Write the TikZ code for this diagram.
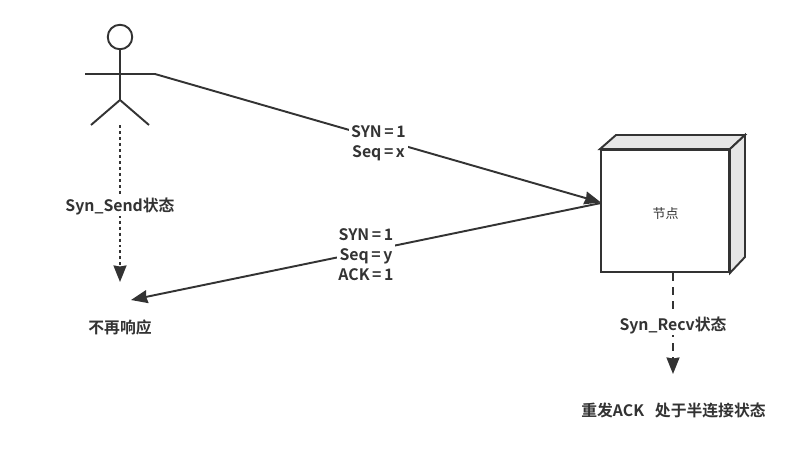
\documentclass[tikz,border=0pt]{standalone}
\usepackage{fontspec}
\setmainfont{Noto Sans CJK SC}[BoldFont={Noto Sans CJK SC Bold}]
\usetikzlibrary{arrows.meta}
\definecolor{ink}{HTML}{333333}
\definecolor{side}{HTML}{E6E6E6}
\tikzset{
    line/.style={draw=ink, line width=1.1pt},
    flow/.style={line, -{Stealth[length=3.3mm, width=2.6mm, inset=0.2mm]}},
    label/.style={fill=white, inner sep=1pt, text=ink, font=\fontsize{9}{11.3}\selectfont\bfseries, align=center}
}
\begin{document}
\begin{tikzpicture}[x=0.2mm, y=-0.2mm]
        \useasboundingbox (0,0) rectangle (793,465);

        \node[circle, line, minimum size=4.9mm, inner sep=0pt] (head) at (120,37) {};
        \coordinate (crotch) at (120,100);
        \coordinate (arml) at (85,74);
        \coordinate (hand) at (155,74);
        \coordinate (legl) at (91,125);
        \coordinate (legr) at (149,125);
        \coordinate (foot) at (120,125);
        \coordinate (boxin) at (601,202.5);
        \coordinate (boxout) at (601,203);
        \coordinate (reply) at (131,300);
        \coordinate (wait) at (120,282);
        \coordinate (retry) at (673,374);

        \node[rectangle, line, minimum width=25.6mm, minimum height=24.4mm, inner sep=0pt] (box) at (665,211) {};
        \node[text=ink, inner sep=0pt, font=\fontsize{7.4}{9}\selectfont] (boxname) at (665.5,213.5) {节点};
        \coordinate (tl) at (616,135);
        \coordinate (tr) at (745,135);
        \coordinate (br) at (745,257);

        \draw[line, fill=side] (box.north west) -- (tl) -- (tr) -- (box.north east) -- cycle;
        \draw[line, fill=side] (box.north east) -- (tr) -- (br) -- (box.south east) -- cycle;

        \draw[line] (head) -- (crotch);
        \draw[line] (arml) -- (hand);
        \draw[line] (legl) -- (crotch) -- (legr);

        \draw[flow] (hand) -- (boxin);
        \draw[flow] (boxout) -- (reply);
        \draw[flow, dash pattern=on 1.7pt off 1.7pt] (foot) -- (wait);
        \draw[flow, dash pattern=on 4.5pt off 3.5pt] (box.south -| retry) -- (retry);

        \node[label] (syn) at (378.5,143) {SYN\,=\,1\\Seq\,=\,x};
        \node[label] (ack) at (366,255) {SYN\,=\,1\\Seq\,=\,y\\ACK\,=\,1};
        \node[label] (send) at (120,206) {Syn\_Send状态};
        \node[label] (recv) at (673,325) {Syn\_Recv状态};
        \node[label] (none) at (120,327) {不再响应};
        \node[label] (half) at (673.5,410) {重发ACK\ \ \ 处于半连接状态};

    \end{tikzpicture}
\end{document}
